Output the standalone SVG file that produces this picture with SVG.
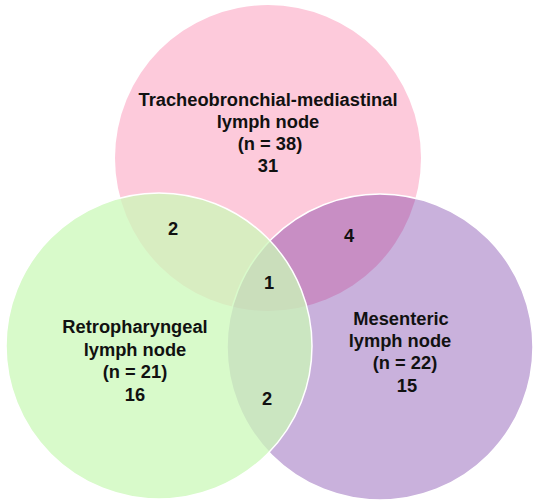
<svg xmlns="http://www.w3.org/2000/svg" width="536" height="503" viewBox="0 0 536 503">
<style>
.t{font-family:"Liberation Sans",Arial,sans-serif;font-weight:bold;font-size:18.3px;fill:#111;text-anchor:middle}
.c{stroke:#fff;stroke-width:1.5}
</style>
<rect width="536" height="503" fill="#fff"/>
<g id="tracheobronchial">
<circle cx="268" cy="158" r="153" fill="#FDCADB"/>
</g>
<g id="mesenteric">
<circle class="c" cx="380" cy="347" r="153" fill="#641F9A" fill-opacity="0.35"/>
</g>
<g id="retropharyngeal">
<circle class="c" cx="159" cy="346" r="153" fill="#CBF8B8" fill-opacity="0.75"/>
</g>
<g id="connectors"></g>
<g id="labels">
<text class="t" x="268" y="106">Tracheobronchial-mediastinal</text>
<text class="t" x="268" y="128">lymph node</text>
<text class="t" x="270" y="150">(n = 38)</text>
<text class="t" x="268" y="172">31</text>
<text class="t" x="135" y="333">Retropharyngeal</text>
<text class="t" x="135" y="355.5">lymph node</text>
<text class="t" x="135" y="378">(n = 21)</text>
<text class="t" x="135" y="400.5">16</text>
<text class="t" x="401" y="325">Mesenteric</text>
<text class="t" x="400" y="347">lymph node</text>
<text class="t" x="405" y="369">(n = 22)</text>
<text class="t" x="407" y="391.5">15</text>
<text class="t" x="173" y="235">2</text>
<text class="t" x="269" y="289">1</text>
<text class="t" x="349" y="242">4</text>
<text class="t" x="267" y="405">2</text>
</g>
</svg>
